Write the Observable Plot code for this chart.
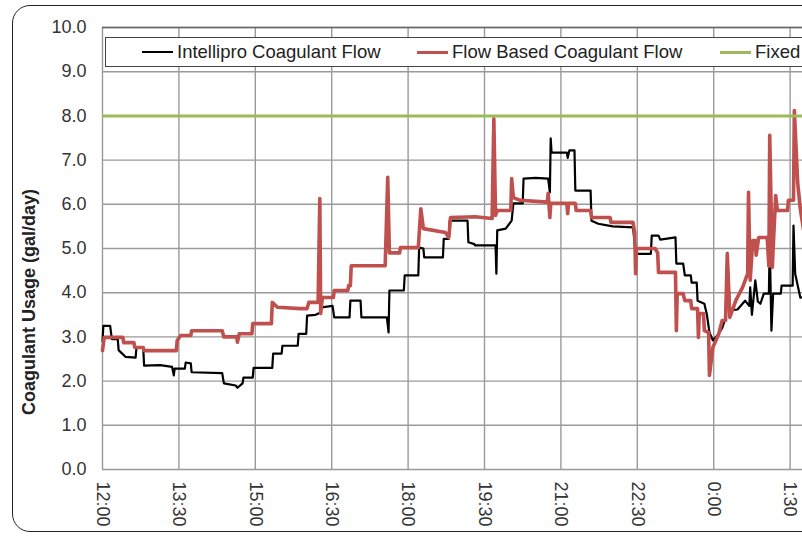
<!DOCTYPE html>
<html>
<head>
<meta charset="utf-8">
<script src="https://cdn.jsdelivr.net/npm/d3@7"></script>
<script src="https://cdn.jsdelivr.net/npm/@observablehq/plot@0.6"></script>
<style>
  html, body { margin: 0; padding: 0; background: #fff; }
  body { width: 802px; height: 536px; overflow: hidden; position: relative; font-family: "Liberation Sans", Arial, sans-serif; }
  #frame { position: absolute; left: 12px; top: 5px; width: 1000px; height: 527px; border: 1.5px solid #222; border-radius: 18px; box-sizing: border-box; }
  #chart { position: absolute; left: 0; top: 0; width: 900px; }
  #chart svg { max-width: none !important; }
  #legend { position: absolute; left: 105px; top: 37px; width: 900px; height: 30px; box-sizing: border-box; border: 1.5px solid #444; background: #fff; font-size: 18.5px; color: #222; }
  .item { position: absolute; top: 0; height: 27px; line-height: 27px; white-space: nowrap; }
  .swatch { position: absolute; top: 13px; width: 31px; }
  #ylabel { position: absolute; left: 29px; top: 302px; transform: translate(-50%, -50%) rotate(-90deg); font-weight: bold; font-size: 18px; color: #222; white-space: nowrap; }
</style>
</head>
<body>
<div id="frame"></div>
<div id="chart"></div>
<div id="legend"></div>
<div id="ylabel">Coagulant Usage (gal/day)</div>
<script>
// ---- data (minutes after 12:00) ----
const seriesNames = ["Intellipro Coagulant Flow", "Flow Based Coagulant Flow", "Fixed Coagulant Flow"];
const seriesColors = ["#000000", "#c0504d", "#9bbb59"];

const intelliproMinutes = [0,1,9,11,18,19,27,39,40,48,49,68,82,84,85,97,98,104,105,141,143,157,159,165,166,177,178,200,201,211,212,230,231,240,241,251,257,258,271,273,291,292,304,305,335,337,338,355,356,372,373,378,379,401,402,408,409,430,431,438,439,463,464,465,475,482,484,495,496,510,525,527,528,529,547,548,550,556,557,575,576,584,601,625,628,646,647,655,657,675,676,684,686,693,694,700,701,709,712,715,719,726,730,734,736,739,748,757,762,763,765,769,772,775,779,785,786,788,790,799,800,813,814,816,822,834,858];
const intelliproValues = [2.9,3.25,3.25,2.95,2.95,2.7,2.55,2.53,2.76,2.76,2.35,2.36,2.32,2.13,2.28,2.28,2.42,2.4,2.2,2.18,1.95,1.9,1.85,1.95,2.08,2.08,2.3,2.3,2.62,2.62,2.8,2.8,3.07,3.07,3.48,3.5,3.55,3.67,3.7,3.44,3.44,3.82,3.82,3.44,3.44,3.1,4.05,4.05,4.39,4.39,5.02,5.0,4.8,4.8,5.22,5.22,5.63,5.63,5.14,5.1,5.07,5.07,4.43,5.41,5.45,5.63,6.02,6.02,6.58,6.6,6.58,6.27,7.49,7.17,7.17,7.05,7.22,7.22,6.31,6.31,5.63,5.56,5.5,5.48,4.88,4.88,5.29,5.29,5.2,5.25,4.66,4.66,4.39,4.39,4.23,4.23,3.82,3.75,3.5,3.1,2.92,3.07,3.2,3.44,4.9,3.6,3.62,3.82,3.7,4.12,3.5,4.28,3.8,3.75,3.98,3.98,5.14,3.14,3.98,3.98,4.16,4.16,5.52,4.43,3.89,3.9,4.0];

const flowMinutes = [0,2,24,25,37,38,48,49,87,88,92,104,105,141,143,158,159,161,176,177,199,200,206,233,241,243,254,256,257,259,272,273,289,290,292,293,333,336,338,350,351,372,375,378,404,408,410,439,459,461,463,465,481,482,484,492,524,525,527,528,547,548,549,557,558,575,576,598,599,625,627,628,629,651,654,655,675,676,677,684,686,693,694,701,702,703,708,709,714,715,719,726,730,734,736,739,746,754,760,761,763,766,769,770,773,783,785,786,789,793,795,807,808,814,815,819,822,826,840,858];
const flowValues = [2.69,2.99,2.99,2.87,2.87,2.76,2.76,2.69,2.69,2.92,3.03,3.03,3.14,3.14,3.0,3.0,2.88,3.07,3.07,3.3,3.3,3.78,3.67,3.64,3.64,3.78,3.78,6.13,3.53,3.89,3.89,4.05,4.05,4.16,4.16,4.61,4.61,6.61,4.9,4.9,5.02,5.02,5.9,5.45,5.36,5.25,5.7,5.72,5.68,7.94,5.75,5.86,5.86,6.58,6.15,6.09,6.05,6.25,5.7,6.02,6.02,5.79,6.02,6.02,5.86,5.86,5.7,5.7,5.59,5.59,5.35,4.43,5.0,5.0,4.9,4.46,4.46,3.14,3.98,3.98,3.82,3.82,3.64,3.64,2.99,3.53,3.53,3.14,3.1,2.13,2.76,3.07,3.37,3.37,4.88,3.44,3.82,4.12,4.43,6.27,4.28,5.18,5.18,4.85,5.25,5.25,4.6,7.56,4.57,6.2,5.86,5.86,6.09,6.09,8.12,6.47,5.9,5.4,5.6,5.8];

const fixedValue = 8.0;

const xTickMinutes = [0,90,180,270,360,450,540,630,720,810,900];
const xTickLabels = ["12:00","13:30","15:00","16:30","18:00","19:30","21:00","22:30","0:00","1:30","3:00"];
const yTicks = [0,1,2,3,4,5,6,7,8,9,10];
const yTickLabels = ["0.0","1.0","2.0","3.0","4.0","5.0","6.0","7.0","8.0","9.0","10.0"];

// ---- build ----
const intellipro = intelliproMinutes.map((m, i) => ({m, v: intelliproValues[i]}));
const flow = flowMinutes.map((m, i) => ({m, v: flowValues[i]}));

const chart = Plot.plot({
  width: 900,
  height: 536,
  marginLeft: 102,
  marginTop: 27,
  marginBottom: 67,
  marginRight: 34,
  style: {fontFamily: "'Liberation Sans', Arial, sans-serif", fontSize: "18px", color: "#333", background: "transparent", overflow: "visible", maxWidth: "none"},
  x: {domain: [0, 900]},
  y: {domain: [0, 10]},
  marks: [
    Plot.gridX(xTickMinutes, {stroke: "#9a9a9a", strokeOpacity: 1, strokeWidth: 1.4}),
    Plot.gridY(yTicks, {stroke: "#9a9a9a", strokeOpacity: 1, strokeWidth: 1.4}),
    Plot.ruleY([10], {stroke: "#666", strokeWidth: 1.4}),
    Plot.line(intellipro, {x: "m", y: "v", stroke: seriesColors[0], strokeWidth: 2.2, strokeLinejoin: "round"}),
    Plot.line(flow, {x: "m", y: "v", stroke: seriesColors[1], strokeWidth: 3.6, strokeLinejoin: "round"}),
    Plot.ruleY([fixedValue], {stroke: seriesColors[2], strokeWidth: 3}),
    Plot.axisY(yTicks, {tickSize: 0, tickPadding: 16, tickFormat: (d) => yTickLabels[yTicks.indexOf(d)], label: null, fill: "#333"}),
    Plot.axisX(xTickMinutes, {tickSize: 0, tickPadding: 12, tickRotate: 90, tickFormat: d => xTickLabels[xTickMinutes.indexOf(d)], label: null, fill: "#333"})
  ]
});
document.getElementById("chart").appendChild(chart);

// ---- legend ----
const legend = document.getElementById("legend");
const legendPos = [[36, 71], [311, 346], [614, 649]];
seriesNames.forEach((name, i) => {
  const sw = document.createElement("div");
  sw.className = "swatch";
  sw.style.left = legendPos[i][0] + "px";
  sw.style.borderTop = (i === 0 ? 2.2 : 3.2) + "px solid " + seriesColors[i];
  legend.appendChild(sw);
  const t = document.createElement("div");
  t.className = "item";
  t.style.left = legendPos[i][1] + "px";
  t.textContent = name;
  legend.appendChild(t);
});
</script>
</body>
</html>
